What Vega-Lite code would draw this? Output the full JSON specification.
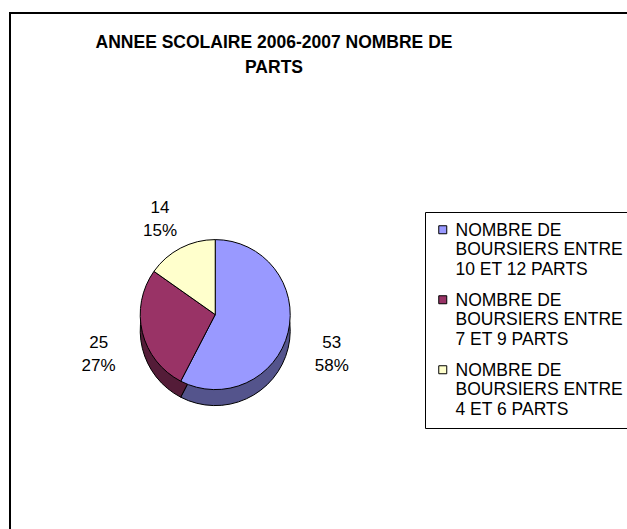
{
  "$schema": "https://vega.github.io/schema/vega-lite/v6.json",
  "width": 620,
  "height": 520,
  "autosize": {"type": "none"},
  "padding": {"left": 10, "top": 13, "right": 0, "bottom": 0},
  "background": "white",
  "view": {"stroke": "black", "strokeWidth": 2},
  "title": {
    "text": ["ANNEE SCOLAIRE 2006-2007 NOMBRE DE", "PARTS"],
    "font": "Liberation Sans",
    "fontSize": 17.5,
    "fontWeight": "bold",
    "lineHeight": 25,
    "color": "black",
    "anchor": "middle",
    "offset": -63,
    "dx": -46
  },
  "data": {
    "values": [
      {"categorie": "NOMBRE DE BOURSIERS ENTRE 10 ET 12 PARTS", "ordre": 1, "nombre": 53, "etiquette": "53\n58%"},
      {"categorie": "NOMBRE DE BOURSIERS ENTRE 7 ET 9 PARTS", "ordre": 2, "nombre": 25, "etiquette": "25\n27%"},
      {"categorie": "NOMBRE DE BOURSIERS ENTRE 4 ET 6 PARTS", "ordre": 3, "nombre": 14, "etiquette": "14\n15%"}
    ]
  },
  "encoding": {
    "theta": {"field": "nombre", "type": "quantitative", "stack": true},
    "order": {"field": "ordre", "type": "quantitative"}
  },
  "layer": [
    {
      "mark": {"type": "arc", "outerRadius": 75, "x": {"expr": "width*0.331"}, "y": {"expr": "height*0.58"}, "yOffset": 16, "stroke": "black", "strokeWidth": 1},
      "encoding": {
        "color": {
          "field": "categorie",
          "type": "nominal",
          "scale": {
            "domain": ["NOMBRE DE BOURSIERS ENTRE 10 ET 12 PARTS", "NOMBRE DE BOURSIERS ENTRE 7 ET 9 PARTS", "NOMBRE DE BOURSIERS ENTRE 4 ET 6 PARTS"],
            "range": ["#9999FF", "#993366", "#FFFFCC"]
          },
          "legend": {
            "orient": "none",
            "legendX": 415,
            "legendY": 199,
            "title": null,
            "labelExpr": "[slice(datum.label,0,9), slice(datum.label,10,25), slice(datum.label,26)]",
            "labelFont": "Liberation Sans",
            "labelFontSize": 17.5,
            "labelLineHeight": 20.5,
            "labelLimit": 0,
            "labelColor": "black",
            "labelBaseline": "top",
            "labelOffset": 6,
            "strokeColor": "black",
            "fillColor": "white",
            "padding": 9,
            "rowPadding": 12,
            "symbolType": "square",
            "symbolSize": 64,
            "symbolStrokeColor": "black",
            "symbolStrokeWidth": 1,
            "symbolOpacity": 1,
            "encode": {
              "symbols": {"update": {"stroke": {"value": "black"}, "strokeWidth": {"value": 1}}},
              "labels": {"update": {"dy": {"value": -8}, "dx": {"value": -2}}}
            }
          }
        }
      }
    },
    {
      "mark": {"type": "arc", "outerRadius": 75, "x": {"expr": "width*0.331"}, "y": {"expr": "height*0.58"}, "yOffset": 16, "fill": "black", "opacity": 0.45}
    },
    {
      "mark": {"type": "arc", "outerRadius": 75, "x": {"expr": "width*0.331"}, "y": {"expr": "height*0.58"}, "stroke": "black", "strokeWidth": 1},
      "encoding": {
        "color": {"field": "categorie", "type": "nominal"}
      }
    },
    {
      "mark": {"type": "text", "radius": 120, "x": {"expr": "width*0.331"}, "y": {"expr": "height*0.58"}, "lineBreak": "\n", "font": "Liberation Sans", "fontSize": 17, "lineHeight": 23, "color": "black"},
      "encoding": {"text": {"field": "etiquette"}}
    }
  ]
}
